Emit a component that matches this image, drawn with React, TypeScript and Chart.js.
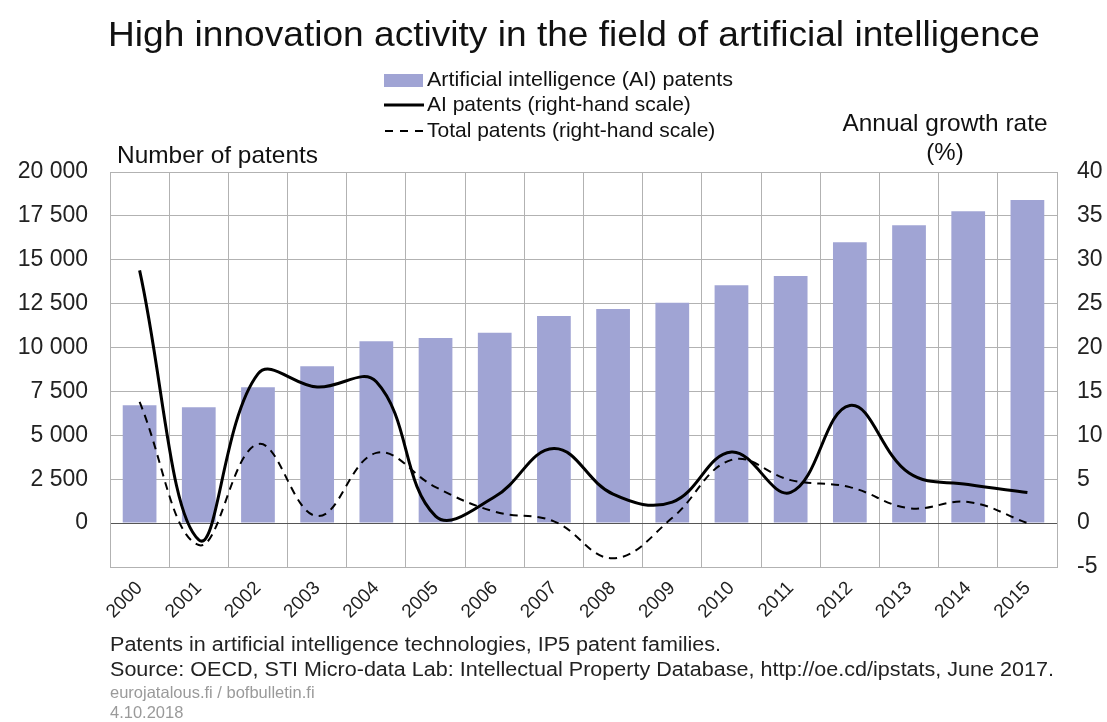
import React, { useEffect, useRef } from "react";
import { Chart, registerables } from "chart.js";

Chart.register(...registerables);

const years = ["2000", "2001", "2002", "2003", "2004", "2005", "2006", "2007", "2008", "2009", "2010", "2011", "2012", "2013", "2014", "2015"];
const aiPatents = [6720, 6600, 7740, 8940, 10360, 10550, 10850, 11800, 12200, 12550, 13550, 14070, 16000, 16970, 17770, 18400];
const aiGrowth = [28.8, -1.9, 17.0, 15.5, 16.1, 0.8, 3.0, 8.5, 3.3, 2.4, 8.1, 3.5, 13.4, 5.7, 4.4, 3.5];
const totalGrowth = [13.8, -2.5, 9.0, 0.8, 8.0, 4.1, 1.3, 0.2, -4.0, 0.6, 7.2, 4.9, 4.1, 1.7, 2.4, 0.0];
const leftTicks = { min: -2500, max: 20000, step: 2500 };
const rightTicks = { min: -5, max: 40, step: 5 };

const title = "High innovation activity in the field of artificial intelligence";
const legendLabels = ["Artificial intelligence (AI) patents", "AI patents (right-hand scale)", "Total patents (right-hand scale)"];
const leftAxisTitle = "Number of patents";
const rightAxisTitle = ["Annual growth rate", "(%)"];
const footerLines = [
  "Patents in artificial intelligence technologies, IP5 patent families.",
  "Source: OECD, STI Micro-data Lab: Intellectual Property Database, http://oe.cd/ipstats, June 2017.",
];
const creditLines = ["eurojatalous.fi / bofbulletin.fi", "4.10.2018"];

const FONT = '"Liberation Sans", Arial, Helvetica, sans-serif';
const BAR_COLOR = "#a0a4d4";
const GRID = "#b2b2b2";

const fmt = (v: number) => {
  const s = Math.round(v).toString();
  return s.replace(/\B(?=(\d{3})+(?!\d))/g, " ");
};

function drawText(
  ctx: CanvasRenderingContext2D,
  text: string,
  x: number,
  y: number,
  size: number,
  align: CanvasTextAlign,
  targetWidth?: number,
  scaleX?: number
): number {
  ctx.font = `${size}px ${FONT}`;
  const w = ctx.measureText(text).width;
  const sx = targetWidth ? targetWidth / w : scaleX || 1;
  ctx.save();
  ctx.translate(x, y);
  ctx.scale(sx, 1);
  ctx.textAlign = align;
  ctx.textBaseline = "middle";
  ctx.fillText(text, 0, 0);
  ctx.restore();
  return sx;
}

const textPlugin = {
  id: "textPlugin",
  afterDraw(chart: any) {
    const ctx: CanvasRenderingContext2D = chart.ctx;
    ctx.save();
    // title
    ctx.fillStyle = "#111";
    drawText(ctx, title, 574, 36, 35, "center", 932);

    // legend
    ctx.fillStyle = BAR_COLOR;
    ctx.fillRect(384, 74, 39, 13);
    ctx.fillStyle = "#111";
    drawText(ctx, legendLabels[0], 427, 80, 21, "left", 306);
    ctx.strokeStyle = "#000";
    ctx.lineWidth = 3;
    ctx.beginPath();
    ctx.moveTo(384, 105);
    ctx.lineTo(424, 105);
    ctx.stroke();
    drawText(ctx, legendLabels[1], 427, 105, 21, "left");
    ctx.lineWidth = 2;
    ctx.setLineDash([8, 7]);
    ctx.beginPath();
    ctx.moveTo(385, 131);
    ctx.lineTo(424, 131);
    ctx.stroke();
    ctx.setLineDash([]);
    drawText(ctx, legendLabels[2], 427, 131, 21, "left");

    // axis titles
    drawText(ctx, leftAxisTitle, 117, 156, 24, "left", 201);
    drawText(ctx, rightAxisTitle[0], 945, 124, 24, "center", 205);
    drawText(ctx, rightAxisTitle[1], 945, 153, 24, "center");

    // footer
    ctx.fillStyle = "#222";
    ctx.font = `20px ${FONT}`;
    const fsx = 944 / ctx.measureText(footerLines[1]).width;
    drawText(ctx, footerLines[0], 110, 645, 20, "left", undefined, fsx);
    drawText(ctx, footerLines[1], 110, 670, 20, "left", undefined, fsx);
    ctx.fillStyle = "#9a9a9a";
    drawText(ctx, creditLines[0], 110, 693, 16.5, "left");
    drawText(ctx, creditLines[1], 110, 713, 16.5, "left");
    ctx.restore();
  },
};

export default function App() {
  const ref = useRef<HTMLCanvasElement | null>(null);
  useEffect(() => {
    document.body.style.margin = "0";
    const canvas = ref.current;
    if (!canvas) return;
    const chart = new Chart(canvas, {
      type: "bar",
      data: {
        labels: years,
        datasets: [
          {
            type: "line",
            label: legendLabels[1],
            data: aiGrowth,
            yAxisID: "y2",
            borderColor: "#000",
            borderWidth: 3,
            pointRadius: 0,
            tension: 0.4,
            fill: false,
            order: 0,
          } as any,
          {
            type: "line",
            label: legendLabels[2],
            data: totalGrowth,
            yAxisID: "y2",
            borderColor: "#000",
            borderWidth: 2,
            borderDash: [8, 6],
            pointRadius: 0,
            tension: 0.4,
            fill: false,
            order: 1,
          } as any,
          {
            type: "bar",
            label: legendLabels[0],
            data: aiPatents,
            yAxisID: "y",
            backgroundColor: BAR_COLOR,
            barPercentage: 0.57,
            categoryPercentage: 1,
            order: 2,
          } as any,
        ],
      },
      options: {
        responsive: false,
        animation: false,
        layout: { padding: { top: 172, left: 0, right: 0, bottom: 0 } },
        plugins: {
          legend: { display: false },
          tooltip: { enabled: false },
          title: { display: false },
        },
        scales: {
          x: {
            offset: true,
            grid: { offset: true, color: GRID, drawTicks: false },
            border: { display: true, color: GRID },
            ticks: {
              maxRotation: 45,
              minRotation: 45,
              padding: 10,
              color: "#222",
              font: { size: 19, family: FONT },
            },
            afterFit: (s: any) => {
              s.height = 155;
            },
          },
          y: {
            position: "left",
            min: leftTicks.min,
            max: leftTicks.max,
            ticks: {
              stepSize: leftTicks.step,
              callback: (v: any) => (Number(v) < 0 ? "" : fmt(Number(v))),
              padding: 22,
              color: "#222",
              font: { size: 23, family: FONT },
            },
            grid: {
              color: (c: any) => (c.tick && c.tick.value === 0 ? "#555" : GRID),
              drawTicks: false,
            },
            border: { display: true, color: GRID },
            afterFit: (s: any) => {
              s.width = 110;
            },
          },
          y2: {
            position: "right",
            min: rightTicks.min,
            max: rightTicks.max,
            ticks: {
              stepSize: rightTicks.step,
              padding: 20,
              color: "#222",
              font: { size: 23, family: FONT },
            },
            grid: { display: false, drawTicks: false },
            border: { display: true, color: GRID },
            afterFit: (s: any) => {
              s.width = 50;
            },
          },
        },
      } as any,
      plugins: [textPlugin],
    });
    return () => chart.destroy();
  }, []);
  return (
    <div style={{ width: 1107, height: 722, background: "#fff" }}>
      <canvas ref={ref} width={1107} height={722} style={{ display: "block" }} />
    </div>
  );
}
